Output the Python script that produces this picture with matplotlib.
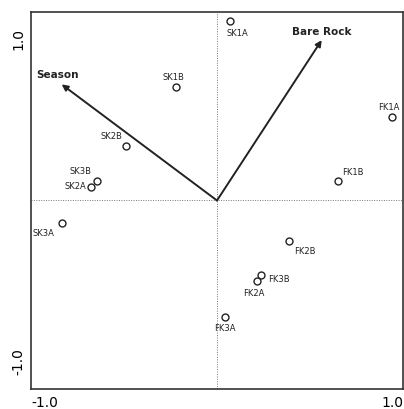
import matplotlib.pyplot as plt
import matplotlib.transforms as mtransforms

# sample scores (axis 1, axis 2)
samples = ['SK1A', 'SK1B', 'SK2B', 'SK3B', 'SK2A', 'SK3A',
           'FK1A', 'FK1B', 'FK2B', 'FK3B', 'FK2A', 'FK3A']
ax1 = [0.07, -0.222, -0.489, -0.643, -0.679, -0.835,
       0.939, 0.652, 0.387, 0.237, 0.214, 0.043]
ax2 = [0.95, 0.604, 0.291, 0.105, 0.069, -0.119,
       0.441, 0.101, -0.213, -0.393, -0.428, -0.620]

# environmental arrows
env_names = ['Season', 'Bare Rock']
env_x = [-0.835, 0.563]
env_y = [0.616, 0.851]

# label offsets in pixels (style only)
label_off = [(7, -11), (-2, 10), (-15, 10), (-17, 10), (-15, 2), (-18, -10),
             (-3, 11), (15, 10), (16, -10), (18, -4), (-3, -11), (0, -10)]
env_off = [(-4, 10), (0, 9)]

fig = plt.figure(figsize=(4.04, 4.10), dpi=100)
ax = fig.add_axes([0.0767, 0.0488, 0.9208, 0.9195])
ax.set_xlim(-1, 1)
ax.set_ylim(-1, 1)

ax.axhline(0, color='#777777', lw=0.7, ls=(0, (1, 1.5)))
ax.axvline(0, color='#777777', lw=0.7, ls=(0, (1, 1.5)))

for name, x, y, off in zip(env_names, env_x, env_y, env_off):
    ax.annotate('', xy=(x, y), xytext=(0, 0),
                arrowprops=dict(arrowstyle='-|>', color='#222222', lw=1.4,
                                mutation_scale=9, shrinkA=0, shrinkB=0))
    ax.annotate(name, xy=(x, y), xytext=off, textcoords='offset pixels',
                ha='center', va='center', fontsize=7.5, fontweight='bold',
                color='#222222')

ax.plot(ax1, ax2, 'o', ms=5, mfc='white', mec='#222222', mew=1.0, ls='none')
for name, x, y, off in zip(samples, ax1, ax2, label_off):
    ax.annotate(name, xy=(x, y), xytext=off, textcoords='offset pixels',
                ha='center', va='center', fontsize=6, color='#222222')

for s in ax.spines.values():
    s.set_linewidth(1.2)
    s.set_color('#333333')

ax.set_xticks([-1, 1])
ax.set_yticks([-1, 1])
ax.set_xticklabels(['-1.0', '1.0'], fontsize=10)
ax.set_yticklabels(['-1.0', '1.0'], fontsize=10, rotation=90)
ax.tick_params(length=0, pad=4)
xl = ax.get_xticklabels()
xl[0].set_ha('left')
xl[1].set_ha('right')
yl = ax.get_yticklabels()
yl[0].set_va('bottom')
yl[1].set_va('top')
yl[0].set_transform(yl[0].get_transform() +
                    mtransforms.ScaledTranslation(0, 15 / 100, fig.dpi_scale_trans))
yl[1].set_transform(yl[1].get_transform() +
                    mtransforms.ScaledTranslation(0, -15 / 100, fig.dpi_scale_trans))

fig.savefig('out.png', dpi=100)
